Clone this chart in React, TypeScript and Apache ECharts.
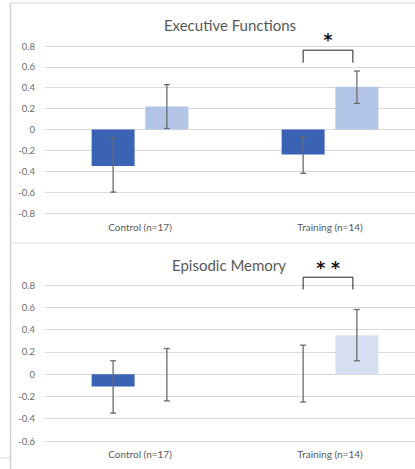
import React, { useEffect, useRef } from "react";
import * as echarts from "echarts";

const categories = ["Control (n=17)", "Training (n=14)"];

// Executive Functions
const efBaseline = [-0.35, -0.24];
const efPost = [0.22, 0.41];
const efBaselineErr = [[-0.6, -0.08], [-0.42, -0.07]];
const efPostErr = [[0.01, 0.43], [0.25, 0.56]];

// Episodic Memory
const emBaseline = [-0.11, 0];
const emPost = [0, 0.35];
const emBaselineErr = [[-0.35, 0.12], [-0.25, 0.26]];
const emPostErr = [[-0.24, 0.23], [0.12, 0.58]];

const efTicks = { min: -0.8, max: 0.8, interval: 0.2 };
const emTicks = { min: -0.6, max: 0.8, interval: 0.2 };

// significance brackets: [category index, top value, leg bottom value, star value, label]
const efSig: [number, number, number, number, string][] = [[1, 0.76, 0.64, 0.86, "*"]];
const emSig: [number, number, number, number, string][] = [[1, 0.87, 0.76, 0.95, "* *"]];

const DARK = "#3A63B5";
const LIGHT_TOP = "#B2C5E7";
const LIGHT_BOT = "#D6E0F2";
const BAR_W = 43;
const GAP = 0.25;
const OFF = (BAR_W + BAR_W * GAP) / 2;
const FONT = "Lato, 'Open Sans', sans-serif";

function errSeries(idx: number, errs: number[][], side: number) {
  return {
    type: "custom",
    xAxisIndex: idx,
    yAxisIndex: idx,
    z: 5,
    silent: true,
    data: errs.map((e, i) => [i, e[0], e[1]]),
    renderItem: (params: any, api: any) => {
      const c = api.value(0);
      const lo = api.coord([c, api.value(1)]);
      const hi = api.coord([c, api.value(2)]);
      const x = lo[0] + side * OFF;
      const cap = 3;
      const st = { stroke: "#6B6B6B", lineWidth: 1.3 };
      return {
        type: "group",
        children: [
          { type: "line", shape: { x1: x, y1: lo[1], x2: x, y2: hi[1] }, style: st },
          { type: "line", shape: { x1: x - cap, y1: lo[1], x2: x + cap, y2: lo[1] }, style: st },
          { type: "line", shape: { x1: x - cap, y1: hi[1], x2: x + cap, y2: hi[1] }, style: st },
        ],
      };
    },
  };
}

function sigSeries(idx: number, sig: any[]) {
  return {
    type: "custom",
    xAxisIndex: idx,
    yAxisIndex: idx,
    z: 6,
    silent: true,
    data: sig.map((s) => [s[0], s[1], s[2], s[3]]),
    renderItem: (params: any, api: any) => {
      const c = api.value(0);
      const top = api.coord([c, api.value(1)]);
      const bot = api.coord([c, api.value(2)]);
      const star = api.coord([c, api.value(3)]);
      const x1 = top[0] - OFF;
      const x2 = top[0] + OFF - 4;
      const label = sig[params.dataIndex][4];
      return {
        type: "group",
        children: [
          {
            type: "polyline",
            shape: { points: [[x1, bot[1]], [x1, top[1]], [x2, top[1]], [x2, bot[1]]] },
            style: { stroke: "#222", lineWidth: 1, fill: null },
          },
          {
            type: "text",
            style: {
              text: label,
              x: (x1 + x2) / 2,
              y: star[1],
              align: "center",
              verticalAlign: "middle",
              fill: "#111",
              font: "bold 17px 'DejaVu Sans', sans-serif",
            },
          },
        ],
      };
    },
  };
}

export default function App() {
  const ref = useRef<HTMLDivElement>(null);
  useEffect(() => {
    if (!ref.current) return;
    const chart = echarts.init(ref.current, null, { renderer: "svg" });
    const xAxisBase = {
      type: "category",
      data: categories,
      axisLine: { show: false },
      axisTick: { show: false },
      axisLabel: { color: "#595959", fontSize: 10, fontFamily: FONT, margin: 9 },
    };
    const yAxisBase = {
      type: "value",
      axisLine: { show: false },
      axisTick: { show: false },
      splitLine: { lineStyle: { color: "#D9D9D9", width: 1 } },
      axisLabel: { color: "#6B6B6B", fontSize: 9.5, fontFamily: FONT, margin: 10 },
    };
    chart.setOption({
      animation: false,
      backgroundColor: "#ffffff",
      title: [
        {
          text: "Executive Functions",
          left: 225,
          top: 12,
          textAlign: "center",
          textStyle: { fontSize: 15, fontWeight: "normal", color: "#595959", fontFamily: FONT },
        },
        {
          text: "Episodic Memory",
          left: 224,
          top: 252,
          textAlign: "center",
          textStyle: { fontSize: 15, fontWeight: "normal", color: "#595959", fontFamily: FONT },
        },
      ],
      grid: [
        { left: 45, top: 46, right: 0, height: 167 },
        { left: 45, top: 285, right: 0, height: 156 },
      ],
      xAxis: [
        { ...xAxisBase, gridIndex: 0 },
        { ...xAxisBase, gridIndex: 1, axisLabel: { ...xAxisBase.axisLabel, margin: 8 } },
      ],
      yAxis: [
        { ...yAxisBase, gridIndex: 0, ...efTicks },
        { ...yAxisBase, gridIndex: 1, ...emTicks },
      ],
      graphic: [
        { type: "line", shape: { x1: 10, y1: 3, x2: 425, y2: 3 }, style: { stroke: "#D9D9D9", lineWidth: 1 } },
        { type: "line", shape: { x1: 10.5, y1: 3, x2: 10.5, y2: 469 }, style: { stroke: "#D0D0D0", lineWidth: 1.5 } },
        { type: "line", shape: { x1: 10, y1: 243, x2: 425, y2: 243 }, style: { stroke: "#E0E0E0", lineWidth: 1 } },
        { type: "line", shape: { x1: 0, y1: 458, x2: 10, y2: 458 }, style: { stroke: "#D9D9D9", lineWidth: 1 } },
      ],
      series: [
        {
          type: "bar",
          xAxisIndex: 0,
          yAxisIndex: 0,
          data: efBaseline,
          barWidth: BAR_W,
          barGap: "25%",
          itemStyle: { color: DARK },
        },
        {
          type: "bar",
          xAxisIndex: 0,
          yAxisIndex: 0,
          data: efPost,
          barWidth: BAR_W,
          barGap: "25%",
          itemStyle: { color: LIGHT_TOP },
        },
        {
          type: "bar",
          xAxisIndex: 1,
          yAxisIndex: 1,
          data: emBaseline,
          barWidth: BAR_W,
          barGap: "25%",
          itemStyle: { color: DARK },
        },
        {
          type: "bar",
          xAxisIndex: 1,
          yAxisIndex: 1,
          data: emPost,
          barWidth: BAR_W,
          barGap: "25%",
          itemStyle: { color: LIGHT_BOT },
        },
        errSeries(0, efBaselineErr, -1),
        errSeries(0, efPostErr, 1),
        errSeries(1, emBaselineErr, -1),
        errSeries(1, emPostErr, 1),
        sigSeries(0, efSig),
        sigSeries(1, emSig),
      ],
    });
    return () => chart.dispose();
  }, []);
  return (
    <div
      ref={ref}
      style={{ position: "fixed", left: 0, top: 0, width: 425, height: 469 }}
    />
  );
}
